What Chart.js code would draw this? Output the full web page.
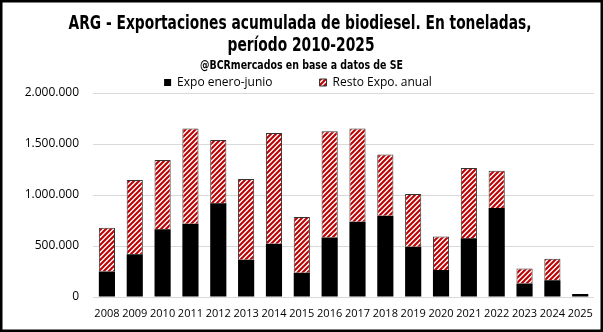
<!DOCTYPE html>
<html lang="es">
  <head>
    <meta charset="UTF-8" />
    <title>ARG - Exportaciones acumulada de biodiesel</title>
    <script src="https://cdn.jsdelivr.net/npm/chart.js"></script>
    <style>
      html, body {
        margin: 0;
        padding: 0;
        background: #fff;
      }
      #wrap {
        width: 603px;
        height: 332px;
      }
    </style>
  </head>
  <body>
    <div id="wrap"><canvas id="bioChart" width="603" height="332"></canvas></div>
    <script>
      const years = ["2008", "2009", "2010", "2011", "2012", "2013", "2014", "2015", "2016",
        "2017", "2018", "2019", "2020", "2021", "2022", "2023", "2024", "2025"];
      const expoEneroJunio = [250000, 418000, 663000, 719000, 918000, 366000, 523000, 238000, 584000,
        738000, 797000, 493000, 265000, 575000, 873000, 133000, 163000, 29000];
      const restoExpoAnual = [430000, 729000, 680000, 934000, 621000, 791000, 1085000, 546000, 1040000,
        915000, 601000, 517000, 329000, 690000, 365000, 147000, 212000, null];
      const yTicks = [0, 500000, 1000000, 1500000, 2000000];
      const titleLines = ["ARG - Exportaciones acumulada de biodiesel. En toneladas,", "período 2010-2025"];
      const subtitleText = "@BCRmercados en base a datos de SE";

      const condensed = "'DejaVu Sans Condensed', 'Liberation Sans Narrow', sans-serif";
      const bodyFont = "'Open Sans', 'Noto Sans', sans-serif";

      // red diagonal hatch like the excel pattern fill
      function makeHatch() {
        const p = 5;
        const c = document.createElement("canvas");
        c.width = p;
        c.height = p;
        const g = c.getContext("2d");
        g.fillStyle = "#fff";
        g.fillRect(0, 0, p, p);
        g.strokeStyle = "#c00000";
        g.lineWidth = 2.1;
        g.beginPath();
        g.moveTo(0, p);
        g.lineTo(p, 0);
        g.moveTo(-1, 1);
        g.lineTo(1, -1);
        g.moveTo(p - 1, p + 1);
        g.lineTo(p + 1, p - 1);
        g.stroke();
        return g.createPattern(c, "repeat");
      }
      const hatch = makeHatch();

      function fmt(v) {
        return String(v).replace(/\B(?=(\d{3})+(?!\d))/g, ".");
      }

      // narrow bold heading (excel used a condensed face), squeezed horizontally
      function narrowText(ctx, text, cx, cy, size, targetW) {
        ctx.font = "bold " + size + "px " + condensed;
        const w = ctx.measureText(text).width;
        const sx = targetW / w;
        ctx.save();
        ctx.translate(cx, cy);
        ctx.scale(sx, 1);
        ctx.textAlign = "center";
        ctx.textBaseline = "middle";
        ctx.fillStyle = "#000";
        ctx.fillText(text, 0, 0);
        ctx.restore();
      }

      const heading = {
        id: "heading",
        afterDraw(chart) {
          const ctx = chart.ctx;
          ctx.save();
          ctx.font = "bold 19px " + condensed;
          const sx = 463 / ctx.measureText(titleLines[0]).width;
          const w2 = ctx.measureText(titleLines[1]).width * sx;
          ctx.restore();
          narrowText(ctx, titleLines[0], 300, 24, 19, 463);
          narrowText(ctx, titleLines[1], 301, 46, 19, w2);
          narrowText(ctx, subtitleText, 301.5, 65.5, 12.5, 203);

          ctx.save();
          ctx.strokeStyle = "#000";
          ctx.lineWidth = 2.5;
          ctx.strokeRect(1.25, 1.25, chart.width - 2.5, chart.height - 2.5);
          ctx.restore();
        },
      };

      // keep the wide gap between legend items without the tall legend box
      const legendHeight = {
        id: "legendHeight",
        beforeLayout(chart) {
          const lg = chart.legend;
          if (lg && !lg._patched) {
            const orig = lg.fit;
            lg.fit = function () {
              orig.call(this);
              this.height = 63.5;
            };
            lg._patched = true;
          }
        },
      };

      const ctx = document.getElementById("bioChart").getContext("2d");
      new Chart(ctx, {
        type: "bar",
        data: {
          labels: years,
          datasets: [
            {
              label: "Expo enero-junio",
              data: expoEneroJunio,
              backgroundColor: "#000",
              borderWidth: 0,
              barPercentage: 0.58,
              categoryPercentage: 1,
            },
            {
              label: "Resto Expo. anual",
              data: restoExpoAnual,
              backgroundColor: hatch,
              borderColor: "#333",
              borderWidth: 1,
              borderSkipped: "bottom",
              barPercentage: 0.58,
              categoryPercentage: 1,
            },
          ],
        },
        options: {
          responsive: false,
          animation: false,
          layout: { padding: { left: 0, right: 7, top: 29.5, bottom: 0 } },
          plugins: {
            title: { display: false },
            legend: {
              display: true,
              position: "top",
              labels: {
                color: "#000",
                font: { family: bodyFont, size: 12 },
                boxWidth: 7,
                boxHeight: 7,
                padding: 47,
              },
            },
            tooltip: { enabled: false },
          },
          scales: {
            x: {
              stacked: true,
              afterFit(scale) {
                scale.height = 35;
              },
              grid: { display: false, drawTicks: false },
              border: { display: false },
              ticks: {
                color: "#000",
                font: { family: bodyFont, size: 11 },
                maxRotation: 0,
                autoSkip: false,
                padding: 10,
              },
            },
            y: {
              stacked: true,
              min: 0,
              max: 2000000,
              afterFit(scale) {
                scale.width = 93;
              },
              afterBuildTicks(scale) {
                scale.ticks = yTicks.map((v) => ({ value: v }));
              },
              grid: { color: "#d9d9d9", drawTicks: false, lineWidth: 1 },
              border: { display: false },
              ticks: {
                color: "#000",
                font: { family: bodyFont, size: 12 },
                padding: 14,
                callback: (v) => fmt(v),
              },
            },
          },
        },
        plugins: [legendHeight, heading],
      });
    </script>
  </body>
</html>
